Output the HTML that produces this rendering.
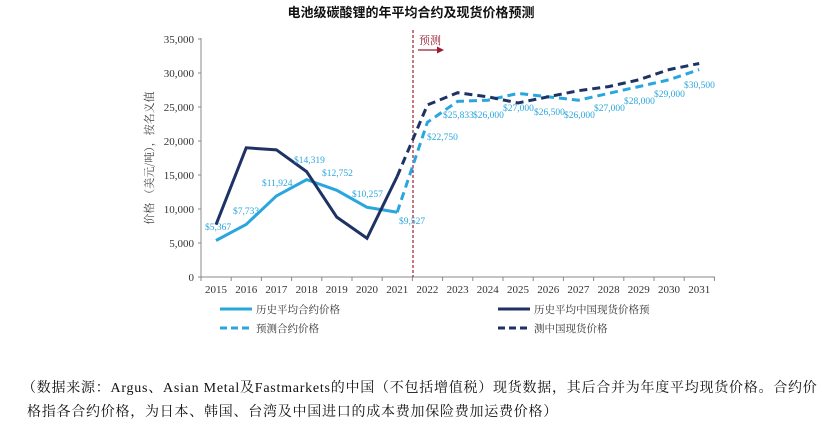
<!DOCTYPE html>
<html><head><meta charset="utf-8"><style>
html,body{margin:0;padding:0;background:#fff;width:822px;height:432px;overflow:hidden}
.t{font-family:"Liberation Serif","Noto Serif CJK SC",serif}
.fn{position:absolute;left:22px;font-family:"Liberation Serif","Noto Serif CJK SC",serif;font-size:14px;color:#111;white-space:nowrap;letter-spacing:0.75px}
</style></head><body>
<div style="position:relative;width:822px;height:432px">
<svg id="s" width="822" height="432" style="position:absolute;left:0;top:0" class="t">
<text x="411" y="17" text-anchor="middle" font-size="13" font-weight="bold" font-family="Liberation Sans,Noto Sans CJK SC,sans-serif" fill="#111">电池级碳酸锂的年平均合约及现货价格预测</text>
</svg>
<div class="fn" style="top:377px">（数据来源：Argus、Asian Metal及Fastmarkets的中国（不包括增值税）现货数据，其后合并为年度平均现货价格。合约价</div>
<div class="fn" style="top:401px;left:27px">格指各合约价格，为日本、韩国、台湾及中国进口的成本费加保险费加运费价格）</div>
</div>
<script>
const s=document.getElementById('s');let h='';
const X=i=>216+30.2*i, Y=v=>277-v*0.0068;
h+='<line x1="201" y1="38" x2="201" y2="277" stroke="#888" stroke-width="1"/>';
h+='<line x1="201" y1="277" x2="715" y2="277" stroke="#888" stroke-width="1"/>';
for(let v=0;v<=35000;v+=5000){const y=Y(v);h+=`<line x1="198" y1="${y}" x2="201" y2="${y}" stroke="#888"/><text x="194" y="${y+4}" text-anchor="end" font-size="11" fill="#333">${v?v.toLocaleString('en-US'):0}</text>`;}
for(let i=0;i<=17;i++){const x=201+30.2*i;h+=`<line x1="${x}" y1="277" x2="${x}" y2="281" stroke="#888"/>`;}
for(let i=0;i<17;i++)h+=`<text x="${X(i)}" y="293" text-anchor="middle" font-size="11" fill="#333">${2015+i}</text>`;
h+='<text transform="translate(153,158) rotate(-90)" text-anchor="middle" font-size="11" fill="#444" font-family="Noto Serif CJK SC,serif">价格 （美元/吨），按名义值</text>';
h+='<line x1="413" y1="30" x2="413" y2="277" stroke="#9b1c35" stroke-width="1.2" stroke-dasharray="3,2"/>';
h+='<text x="419" y="44" font-size="11" fill="#9b1c35" font-family="Noto Serif CJK SC,serif">预测</text>';
h+='<line x1="418" y1="50" x2="438" y2="50" stroke="#9b1c35" stroke-width="1.2"/><polygon points="437,46.5 444,50 437,53.5" fill="#9b1c35"/>';
const lb=[5367,7733,11924,14319,12752,10257,9527], lf=[9527,22750,25833,26000,27000,26500,26000,27000,28000,29000,30500];
const db=[7700,19000,18700,15500,8800,5700,14800], df=[14800,25300,27100,26500,25600,26500,27400,28000,29000,30500,31400];
const P=(a,o)=>a.map((v,i)=>`${X(i+o)},${Y(v)}`).join(' ');
const LB='#2aa6de',DB='#1f3264';
h+=`<polyline points="${P(lb,0)}" fill="none" stroke="${LB}" stroke-width="3"/>`;
h+=`<polyline points="${P(db,0)}" fill="none" stroke="${DB}" stroke-width="3"/>`;
h+=`<polyline points="${P(lf,6)}" fill="none" stroke="${LB}" stroke-width="3" stroke-dasharray="8,5"/>`;
h+=`<polyline points="${P(df,6)}" fill="none" stroke="${DB}" stroke-width="3" stroke-dasharray="8,5"/>`;
const labs=[[205,230,'$5,367'],[233,214,'$7,733'],[262,186,'$11,924'],[294,163,'$14,319'],[322,176,'$12,752'],[352,197,'$10,257'],[399,224,'$9,527'],
[427,140,'$22,750'],[443,118,'$25,833'],[473,118,'$26,000'],[503,111,'$27,000'],[534,115,'$26,500'],[564,118,'$26,000'],[594,111,'$27,000'],[624,104,'$28,000'],[654,97,'$29,000'],[684,88,'$30,500']];
labs.forEach(l=>h+=`<text x="${l[0]}" y="${l[1]}" font-size="9.5" fill="${LB}">${l[2]}</text>`);
const cj='font-family="Noto Serif CJK SC,serif"';
h+=`<line x1="220" y1="309" x2="252" y2="309" stroke="${LB}" stroke-width="3"/><text x="256" y="313" font-size="10.5" fill="#333" ${cj}>历史平均合约价格</text>`;
h+=`<line x1="220" y1="328" x2="250" y2="328" stroke="${LB}" stroke-width="3" stroke-dasharray="7,4"/><text x="256" y="332" font-size="10.5" fill="#333" ${cj}>预测合约价格</text>`;
h+=`<line x1="498" y1="309" x2="530" y2="309" stroke="${DB}" stroke-width="3"/><text x="534" y="313" font-size="10.5" fill="#333" ${cj}>历史平均中国现货价格预</text>`;
h+=`<line x1="498" y1="328" x2="528" y2="328" stroke="${DB}" stroke-width="3" stroke-dasharray="7,4"/><text x="534" y="332" font-size="10.5" fill="#333" ${cj}>测中国现货价格</text>`;
s.insertAdjacentHTML('beforeend',h);
</script>
</body></html>
